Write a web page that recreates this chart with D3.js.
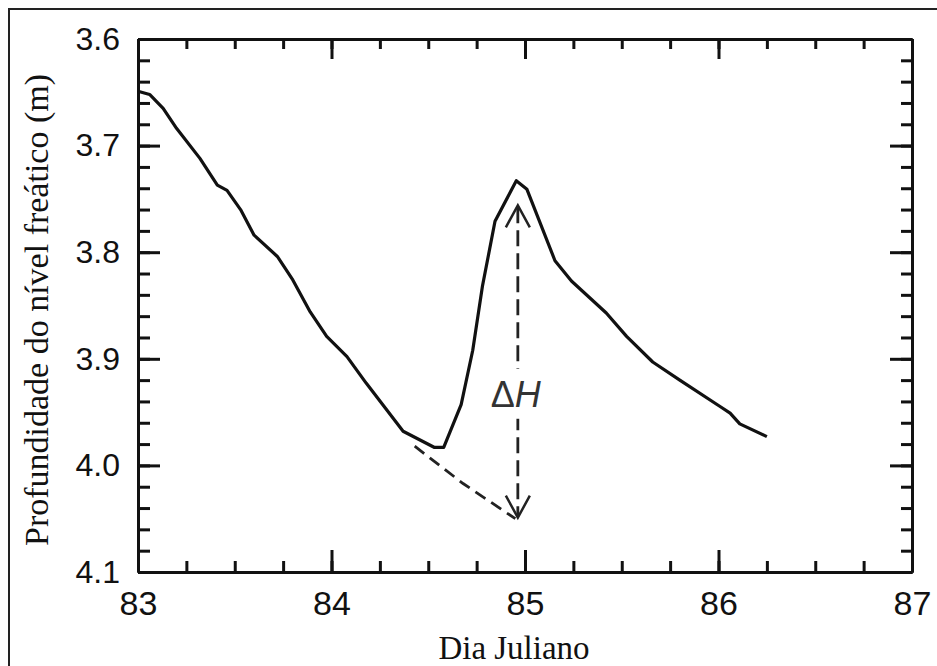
<!DOCTYPE html>
<html>
<head>
<meta charset="utf-8">
<script src="https://cdn.jsdelivr.net/npm/d3@7"></script>
<style>
  body { margin: 0; background: #fff; }
  svg { display: block; }
</style>
</head>
<body>
<div id="chart"></div>
<script>
// curva medida (dia juliano, profundidade em m)
var days = [83.00, 83.06, 83.13, 83.20, 83.32, 83.41, 83.46, 83.53, 83.60, 83.72,
            83.80, 83.89, 83.975, 84.08, 84.18, 84.37, 84.53, 84.58, 84.67, 84.73,
            84.78, 84.845, 84.955, 85.01, 85.155, 85.24, 85.42, 85.525, 85.66, 85.80,
            86.01, 86.06, 86.11, 86.25];
var depths = [3.649, 3.652, 3.665, 3.684, 3.712, 3.737, 3.742, 3.760, 3.784, 3.804,
              3.826, 3.856, 3.879, 3.898, 3.923, 3.968, 3.983, 3.983, 3.943, 3.892,
              3.832, 3.771, 3.733, 3.741, 3.808, 3.827, 3.857, 3.879, 3.903, 3.920,
              3.945, 3.951, 3.961, 3.973];

// recessao extrapolada (tracejada)
var extDays = [84.43, 84.68, 84.95];
var extDepths = [3.982, 4.017, 4.050];

// seta do delta H
var arrowDay = 84.963;
var arrowTop = 3.756;
var arrowBottom = 4.049;
var arrowLabelDepth = 3.945;

var xTicks = [83, 84, 85, 86, 87];
var yTicks = [3.6, 3.7, 3.8, 3.9, 4.0, 4.1];
var xMinor = d3.range(83, 87.001, 0.25);
var yMinor = d3.range(0, 26).map(function(i){ return +(3.6 + i * 0.02).toFixed(2); });

var width = 937, height = 666;
var padL = 138, padR = 912, padT = 39, padB = 572;

var svg = d3.select("#chart").append("svg")
  .attr("width", width)
  .attr("height", height);

// moldura da figura
svg.append("path")
  .attr("d", "M9,666 L9,9 L937,9")
  .attr("fill", "none")
  .attr("stroke", "#222")
  .attr("stroke-width", 2);

var x = d3.scaleLinear().domain([83, 87]).range([padL, padR]);
var y = d3.scaleLinear().domain([3.6, 4.1]).range([padT, padB]);

function styleAxis(g) {
  g.select(".domain").attr("stroke", "#111").attr("stroke-width", 3);
  g.selectAll(".tick line").attr("stroke", "#111").attr("stroke-width", 3);
}

// eixos menores (sem rotulos)
svg.append("g").attr("transform", "translate(0," + padB + ")")
  .call(d3.axisBottom(x).tickValues(xMinor).tickSize(-11).tickSizeOuter(0).tickFormat(""))
  .call(styleAxis);
svg.append("g").attr("transform", "translate(0," + padT + ")")
  .call(d3.axisTop(x).tickValues(xMinor).tickSize(-10).tickSizeOuter(0).tickFormat(""))
  .call(styleAxis);
svg.append("g").attr("transform", "translate(" + padL + ",0)")
  .call(d3.axisLeft(y).tickValues(yMinor).tickSize(-12).tickSizeOuter(0).tickFormat(""))
  .call(styleAxis);
svg.append("g").attr("transform", "translate(" + padR + ",0)")
  .call(d3.axisRight(y).tickValues(yMinor).tickSize(-11).tickSizeOuter(0).tickFormat(""))
  .call(styleAxis);

// eixos principais
var gx = svg.append("g").attr("transform", "translate(0," + padB + ")")
  .call(d3.axisBottom(x).tickValues(xTicks).tickSize(-22).tickSizeOuter(0).tickPadding(19).tickFormat(d3.format("d")))
  .call(styleAxis);
gx.selectAll("text").attr("font-family", "'Liberation Sans', Arial, sans-serif")
  .attr("font-size", 34).attr("fill", "#111").attr("dy", "0.72em");

svg.append("g").attr("transform", "translate(0," + padT + ")")
  .call(d3.axisTop(x).tickValues(xTicks).tickSize(-20).tickSizeOuter(0).tickFormat(""))
  .call(styleAxis);

var gy = svg.append("g").attr("transform", "translate(" + padL + ",0)")
  .call(d3.axisLeft(y).tickValues(yTicks).tickSize(-22).tickSizeOuter(0).tickPadding(18).tickFormat(d3.format(".1f")))
  .call(styleAxis);
gy.selectAll("text").attr("font-family", "'Liberation Sans', Arial, sans-serif")
  .attr("font-size", 32).attr("fill", "#111");

svg.append("g").attr("transform", "translate(" + padR + ",0)")
  .call(d3.axisRight(y).tickValues(yTicks).tickSize(-22).tickSizeOuter(0).tickFormat(""))
  .call(styleAxis);

// titulos dos eixos
svg.append("text")
  .attr("x", 514).attr("y", 659)
  .attr("text-anchor", "middle")
  .attr("font-family", "'Liberation Serif', 'Times New Roman', serif")
  .attr("font-size", 33)
  .attr("fill", "#111")
  .text("Dia Juliano");

svg.append("text")
  .attr("transform", "translate(48,310) rotate(-90)")
  .attr("text-anchor", "middle")
  .attr("font-family", "'Liberation Serif', 'Times New Roman', serif")
  .attr("font-size", 34)
  .attr("fill", "#111")
  .text("Profundidade do nível freático (m)");

var line = d3.line()
  .x(function(d){ return x(d[0]); })
  .y(function(d){ return y(d[1]); });

// curva observada
svg.append("path")
  .datum(days.map(function(d, i){ return [d, depths[i]]; }))
  .attr("d", line)
  .attr("fill", "none")
  .attr("stroke", "#111")
  .attr("stroke-width", 3.2)
  .attr("stroke-linejoin", "round");

// recessao extrapolada
svg.append("path")
  .datum(extDays.map(function(d, i){ return [d, extDepths[i]]; }))
  .attr("d", line)
  .attr("fill", "none")
  .attr("stroke", "#222")
  .attr("stroke-width", 2.8)
  .attr("stroke-dasharray", "12,7");

// seta vertical tracejada
var ax = x(arrowDay);
svg.append("line")
  .attr("x1", ax).attr("x2", ax)
  .attr("y1", y(arrowTop) + 2).attr("y2", y(arrowBottom) - 2)
  .attr("stroke", "#222")
  .attr("stroke-width", 2.8)
  .attr("stroke-dasharray", "16,7");

[[arrowTop, 1], [arrowBottom, -1]].forEach(function(a){
  var ty = y(a[0]);
  svg.append("path")
    .attr("d", "M" + (ax - 12) + "," + (ty + a[1] * 22) + " L" + ax + "," + ty + " L" + (ax + 12) + "," + (ty + a[1] * 22))
    .attr("fill", "none")
    .attr("stroke", "#222")
    .attr("stroke-width", 2.5);
});

// rotulo delta H com fundo branco
var ly = y(arrowLabelDepth);
svg.append("rect")
  .attr("x", ax - 28).attr("y", ly - 38)
  .attr("width", 56).attr("height", 50)
  .attr("fill", "#fff");
var lbl = svg.append("text")
  .attr("x", ax - 2).attr("y", ly)
  .attr("text-anchor", "middle")
  .attr("font-family", "'Liberation Sans', Arial, sans-serif")
  .attr("font-size", 36)
  .attr("fill", "#333");
lbl.append("tspan").attr("font-style", "normal").text("Δ");
lbl.append("tspan").attr("font-style", "italic").text("H");
</script>
</body>
</html>
